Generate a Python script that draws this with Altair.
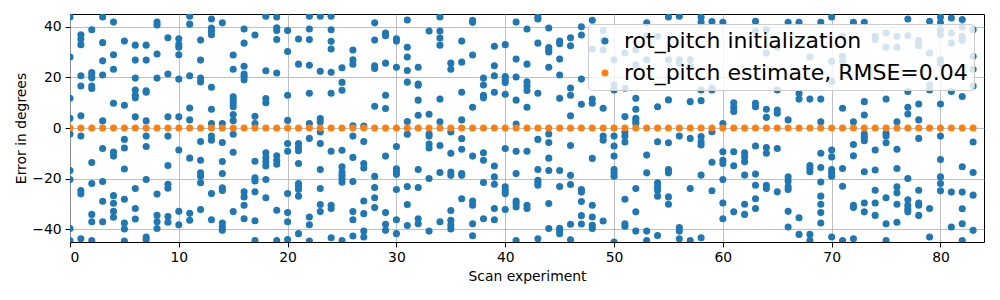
import altair as alt
import pandas as pd

# Scan experiment index (0..83)
experiments = list(range(84))

# rot_pitch initialization errors (degrees), one list per experiment
init_pitch = [
    [43.8, 28, 11.7, 3.8, -2.4, -16.8, -20.3, -39.7, -44.4],
    [36.8, 35.1, 32.9, 20.6, 16.6, 4.8, -3.2, -24.7, -26, -43.7],
    [38.8, 21.9, 20.9, 19.8, 16.6, 15.6, -13.6, -21.9, -34.1, -37, -44.4],
    [43.8, 33.7, 26.5, 20.9, 2.8, -8.1, -21.1, -28.9, -37],
    [41.8, 28.9, 23.2, 9.8, -9.5, -11.1, -26.7, -29.7, -32.9, -35.2],
    [34.3, 9, -4.5, -7.9, -16.2, -28.1, -37.5, -39.9, -44.6],
    [32.7, 26.8, 19.7, 15, 12.9, 11.9, 4.4, -23.9, -31.8, -35.9],
    [32.7, 26.8, 14.7, 14.1, 2.8, -3.2, -7.3, -20.3, -43, -44.1],
    [41.8, 40.7, 29.2, 19.7, -26.1, -34.5, -37, -39.7],
    [35.6, 21.3, 4.4, -3.2, -14.8, -22.2, -23.8, -34.9, -37.2],
    [35.2, 33, 31.9, 28.9, 19.3, 4.4, -8.7, -32.9, -38.2],
    [44.1, 41, 20.6, 7.9, 3.2, -11.9, -33.7, -36.4],
    [34.7, 26.8, 19.7, 18.2, -5.3, -12.7, -17.7, -19, -21.6, -32.2],
    [43, 39.5, 38.2, 36.8, 16.1, 7.4, 1.8, -3.2, -4.8, -25.9, -36.2],
    [41.5, 1.8, -5.7, -13.2, -18, -23.6, -24.7, -37.5, -39.1, -40.4],
    [28.8, 23.2, 12.3, 11.1, 9.8, 8.4, 5.3, 2.9, -2.5, -9.6, -33],
    [39.1, 33.5, 24.4, 21.3, 20.3, 19, -25.2, -27.2, -30.5, -35.8],
    [36.7, 4.6, 1.8, -13.1, -19.7, -20.9, -25.2, -36.6, -44.4],
    [44.1, 22.6, 11.6, 10, -9.8, -11.7, -13.3, -15, -20.3, -27.5],
    [43.8, 39.6, 38.5, 34.9, 21.7, -11, -12.7, -14.3, -32.5, -44.4],
    [38.5, 30.2, 12.9, 3, -6.1, -9.2, -25.9, -33.4, -37, -44],
    [35.1, 25.2, -6.1, -7.7, -9, -14, -21.9, -23, -24.3, -26.9, -41.7],
    [44.1, 39.1, 34.9, 24.8, 13.7, 1.8, -4.1, -35.1, -38.2, -44.6],
    [44.1, 22.4, 3.7, 2.4, -1.6, -6.1, -16.4, -23.9, -30.2, -33],
    [44.1, 38.8, 34.2, 31.2, 22, 13.7, -9.2, -30.5, -31.8, -43.3],
    [23.8, 18, 14.9, -8.8, -15.3, -17.4, -18.7, -20.1, -21.4, -44.4],
    [30.8, 26.9, 25.2, 0.9, -3.2, -11.6, -21.1, -33, -36.2, -42.6],
    [0.8, -5.3, -14, -15.8, -28.8, -33.8, -40.7, -43],
    [41.5, 34.7, 24.6, 23.5, 8.6, -19.1, -23.5, -27.5, -31.4],
    [37.5, 36.4, 25.6, 12.9, 7.7, -11.1, -33.4, -38, -40.4],
    [35.2, 34.3, 24, -7.3, -16.1, -17.2, -18.3, -24.3, -36.2, -41.7],
    [42.6, 31.9, 28, 22.7, 18.1, 2.6, -2.5, -23.1, -30.2, -38.5],
    [24, 17.4, 16.9, 11, 5, -16.4, -23.5, -35.8, -37.8],
    [38.3, 5.4, -2.4, -3.2, -6.3, -7.9, -19.9, -40.7],
    [43.8, 38.3, 35.5, 32.7, 11.4, 2.5, -6.9, -17.6, -37],
    [25.6, 23.2, -1.6, -10, -17.4, -18.7, -32.6, -36.4, -38.3, -39.9],
    [34.3, 26, 14.1, 3.2, -4.2, -8.4, -18, -18.7, -27.9],
    [42.5, 41.7, 28.8, 8.2, -11.1, -28.8, -30.5, -37.8, -42.5],
    [19.7, 17, 12.9, 11.9, -9.8, -12.7, -21.5, -35.8],
    [32.3, 24.6, 20.6, 14.1, -15, -19.3, -22.2, -31.8, -36.2],
    [32.9, 20.3, 19, 18, 13.3, -8.1, -23.2, -24.6, -25.9, -32.2],
    [41.8, 27.2, 20.1, 11, 1.6, -9.2, -18, -28.8, -29.8, -31.2, -44.4],
    [39.1, 25.2, 18.2, 16.6, 14.8, 8.2, -9.2, -30.5, -31.8],
    [43.8, 43, 33.5, 13.7, -4.5, -16.4, -20.6, -21.6, -22.6, -43.7],
    [39.5, 31.8, 30.9, 30, 24, -2.4, -5.7, -11.9, -16.8, -29.8, -39.7],
    [34.3, 33.3, 27.2, 20.9, 11.7, -16.8, -23.1, -39.6, -40.7, -41.7],
    [35.6, 32.5, 15.8, 12.9, 4.8, -6.9, -18.7, -22.3, -38, -44.1],
    [40, 36.7, 19.3, 9.4, -24.3, -25.3, -29, -34.6, -37.9],
    [42.5, 31.2, 11.4, 9.8, -12, -30.5, -35.1, -38.4, -39.7],
    [38.5, 34.5, 30.9, 7.8, -3.2, -4.8, -36.7],
    [26.9, 17, 15, -3.2, -7.1, -11.1, -16.4, -17.7, -19, -45],
    [29.6, 15.7, 4.5, -1.6, -3.2, -5.5, -28.1, -37.8, -38.8],
    [30.9, 25, 11.7, 7.4, 3.8, 2.8, 1.8, -23.9, -33.1, -40.7],
    [41.5, 36.4, 26.9, -10.7, -17.7, -40.7, -44.4],
    [36.2, 8.4, -5.4, -21.6, -23.2, -24.6, -26.9, -42.4],
    [43.8, 26.9, 11.1, -5.8, -16.4, -17.7, -27.2, -30.1],
    [44.1, 26.9, 25.6, -3.2, -39.3, -40.7, -43.7],
    [26.9, 24.3, 10.4, -4.1, -23.9, -44.4],
    [43.8, 41.7, 15, 10.8, -3.4, -5.4, -6.7, -18.6, -43.3],
    [42, 15.8, 15, -1.5, -13.5, -24.8],
    [41.7, 1.8, -9.4, -12.7, -14, -20.3, -29.6, -35.8],
    [10, 8.2, 6.5, -9.4, -14.9, -33.1],
    [-9.8, -11.4, -13.3, -18.6, -30.1, -34.1],
    [42.1, 38.2, 9.8, 8.4, -7.1, -18.2, -22.6, -27.9, -31.8],
    [38.8, 29.6, 7.4, 4.2, -7.7, -10, -22.6, -23.9],
    [31.9, 15, 7.1, 5.8, -8.1, -25.2],
    [41.7, 3.2, -19.3, -20.9, -23.2, -24.3, -32.9, -39.1],
    [41.7, 13.7, 11.4, -35.4, -42],
    [28, 11.4, -14.8, -16, -17.3, -42, -44.4],
    [41.7, 11.4, 2.5, -10, -15.6, -21.3, -26.9, -30.1, -33.4, -37.5],
    [43.8, 26.3, 18.4, -8.7, -11.4, -16.4, -17.7, -19, -43],
    [36.2, 28.3, 26.3, 7.8, -16, -23, -44.4],
    [41.7, 2.5, -6.5, -11, -30.5, -31.4, -43.7],
    [41.7, 10.4, 5.1, -2.4, -3.7, -5, -17.3, -29.6, -33.1],
    [36.2, 34.9, -8.7, -16.6, -24.6, -29.6, -34.5],
    [37.5, 31.9, 11.4, -2.1, -3.2, -5.8, -27.5, -37.8, -44.4],
    [36.2, 31.9, 2.5, -8.4, -16, -23.2, -25.6, -30.1, -37.2],
    [43, 36.4, 14.4, 8.2, 5.5, -19.9, -28.3, -30.5, -32, -33.1],
    [34.6, 33.5, 32.5, 9.5, 3.2, -4.1, -24.6, -29.6, -30.5, -34.5],
    [42.1, 29.6, 17, 15, -31.8, -43],
    [43.8, 41.5, 38.8, 36.8, 26.9, 25.3, 9.5, -3.2, -12.4, -19.3, -21.9, -24.8],
    [43.4, 37.5, 33.5, 14.4, -25.3, -39.1],
    [42.8, 39.9, 36.2, 34.6, 12.4, -15.3, -25.3, -31.9, -37.8, -44.4],
    [38.8, 28.3, 23.2, 16.6, -5.5, -17.6, -26.5, -40.4],
]

# rot_pitch estimate errors (degrees), one per experiment
estimate_pitch = [
    0.0, 0.0, 0.0, 0.0, 0.0, 0.0, 0.0, 0.0, 0.0, 0.0, 0.0, 0.0,
    0.0, 0.0, 0.0, 0.0, 0.0, 0.0, 0.0, 0.0, 0.0, 0.0, 0.0, 0.0,
    0.0, 0.0, 0.0, 0.0, 0.0, 0.0, 0.0, 0.0, 0.0, 0.0, 0.0, 0.0,
    0.0, 0.0, 0.0, 0.0, 0.0, 0.0, 0.0, 0.0, 0.0, 0.0, 0.0, 0.0,
    0.0, 0.0, 0.0, 0.0, 0.0, 0.0, 0.0, 0.0, 0.0, 0.0, 0.0, 0.0,
    0.0, 0.0, 0.0, 0.0, 0.0, 0.0, 0.0, 0.0, 0.0, 0.0, 0.0, 0.0,
    0.0, 0.0, 0.0, 0.0, 0.0, 0.0, 0.0, 0.0, 0.0, 0.0, 0.0, 0.0,
]

series_names = ["rot_pitch initialization", "rot_pitch estimate, RMSE=0.04"]
series_colors = ["#1f77b4", "#ff7f0e"]
x_ticks = [0, 10, 20, 30, 40, 50, 60, 70, 80]
y_ticks = [-40, -20, 0, 20, 40]

rows = []
order = 0
for e, vals in zip(experiments, init_pitch):
    for v in vals:
        rows.append({"exp": e, "err": v, "series": series_names[0], "o": order})
        order += 1
for e, v in zip(experiments, estimate_pitch):
    rows.append({"exp": e, "err": v, "series": series_names[1], "o": order})
    order += 1
df = pd.DataFrame(rows)

FONT = "DejaVu Sans"

chart = (
    alt.Chart(df)
    .mark_circle(size=50, opacity=1, clip=True)
    .encode(
        x=alt.X(
            "exp:Q",
            scale=alt.Scale(domain=[0, 84], nice=False, zero=False),
            axis=alt.Axis(
                values=x_ticks, title="Scan experiment", format="d",
                labelFontSize=13.9, titleFontSize=13.9, titleFontWeight="normal",
                tickSize=4.9, labelPadding=4, titlePadding=5,
                tickColor="black", labelColor="black", titleColor="black",
                domain=False, gridColor="#b0b0b0", gridWidth=0.8,
            ),
        ),
        y=alt.Y(
            "err:Q",
            scale=alt.Scale(domain=[-45, 45], nice=False, zero=False),
            axis=alt.Axis(
                values=y_ticks, title="Error in degrees",
                labelExpr="replace(datum.label, '-', '\u2212')",
                labelFontSize=13.9, titleFontSize=13.9, titleFontWeight="normal",
                tickSize=4.9, labelPadding=4, titlePadding=3,
                tickColor="black", labelColor="black", titleColor="black",
                domain=False, gridColor="#b0b0b0", gridWidth=0.8,
            ),
        ),
        color=alt.Color(
            "series:N",
            scale=alt.Scale(domain=series_names, range=series_colors),
            legend=alt.Legend(
                title=None, orient="top-right", offset=10,
                labelFontSize=22, labelColor="black", labelFont=FONT,
                symbolType="circle", symbolSize=50, symbolStrokeWidth=0,
                rowPadding=10, padding=6, labelOffset=8,
                fillColor="rgba(255,255,255,0.8)", strokeColor="#cccccc",
                cornerRadius=4, labelLimit=600,
            ),
        ),
        order=alt.Order("o:Q"),
    )
    .properties(
        width=914, height=228,
        autosize=alt.AutoSizeParams(type="none"),
        padding={"left": 62, "top": 6, "right": 4, "bottom": 50},
    )
    .configure(font=FONT)
    .configure_view(stroke="black", strokeWidth=1)
)

chart.save("out.html", embed_options={"renderer": "svg", "actions": False})
